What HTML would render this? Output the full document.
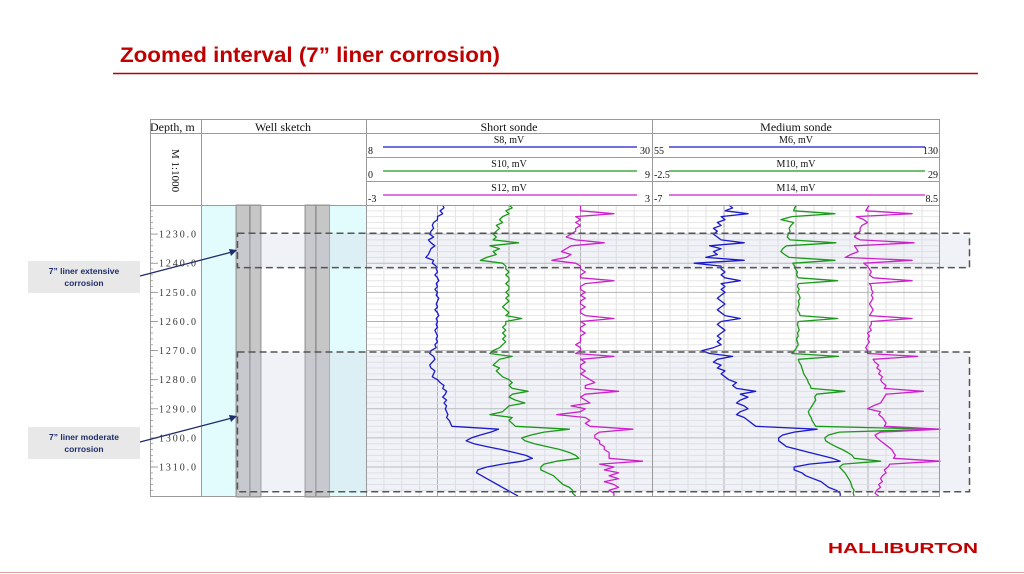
<!DOCTYPE html>
<html><head><meta charset="utf-8"><style>
html,body{margin:0;padding:0;background:#fff;}
svg{display:block;}
.serif{font-family:"Liberation Serif",serif;}
.sans{font-family:"Liberation Sans",sans-serif;}
</style></head><body>
<svg id="page" width="1024" height="574" viewBox="0 0 1024 574">
  <text class="sans" x="120" y="62" font-size="21" font-weight="bold" fill="#c00000" textLength="380" lengthAdjust="spacingAndGlyphs">Zoomed interval (7” liner corrosion)</text>
  <line x1="113" y1="73.5" x2="978" y2="73.5" stroke="#c00000" stroke-width="1.5"/>
  <text class="sans" x="828" y="553" font-size="14.5" font-weight="bold" fill="#c00000" textLength="150" lengthAdjust="spacingAndGlyphs">HALLIBURTON</text>
  <line x1="0" y1="572.5" x2="1024" y2="572.5" stroke="#d9a0a0" stroke-width="1"/>

  <g id="chart">
    <rect x="150" y="119" width="790" height="378" fill="#fff"/>
    <!-- well sketch -->
    <g>
      <rect x="201" y="205" width="35" height="292" fill="#e2fbfd"/>
      <rect x="236" y="205" width="14" height="292" fill="#c6c6c6" stroke="#555" stroke-width="0.6"/>
      <rect x="250" y="205" width="11" height="292" fill="#c6c6c6" stroke="#555" stroke-width="0.6"/>
      <rect x="305" y="205" width="11" height="292" fill="#c6c6c6" stroke="#555" stroke-width="0.6"/>
      <rect x="316" y="205" width="14" height="292" fill="#c6c6c6" stroke="#555" stroke-width="0.6"/>
      <rect x="330" y="205" width="36" height="292" fill="#e2fbfd"/>
    </g>
    <g id="grid"></g>
    <g id="shade"></g>
    <g id="curves"></g>
    <g id="depthAxis"></g>
    <!-- header -->
    <g class="serif" font-size="12" fill="#111">
      <text x="150" y="131" font-size="12">Depth, m</text>
      <rect x="195" y="120" width="5" height="12" fill="#fff"/>
      <text x="283" y="131" text-anchor="middle">Well sketch</text>
      <text x="509" y="131" text-anchor="middle">Short sonde</text>
      <text x="796" y="131" text-anchor="middle">Medium sonde</text>
      <text transform="translate(172,149) rotate(90)" font-size="11">M 1:1000</text>
    </g>
    <g id="legend" class="serif" font-size="10"></g>
    <g id="frame" fill="none" stroke="#9a9a9a" stroke-width="1">
      <rect x="150.5" y="119.5" width="789" height="377"/>
      <line x1="150" y1="133.5" x2="940" y2="133.5"/>
      <line x1="150" y1="205.5" x2="940" y2="205.5"/>
      <line x1="201.5" y1="119" x2="201.5" y2="497"/>
      <line x1="366.5" y1="119" x2="366.5" y2="497"/>
      <line x1="652.5" y1="119" x2="652.5" y2="497"/>
      <line x1="366" y1="157.5" x2="940" y2="157.5"/>
      <line x1="366" y1="181.5" x2="940" y2="181.5"/>
    </g>
    <g id="boxes" fill="none" stroke="#555" stroke-width="1.5" stroke-dasharray="7,4"></g>
  </g>

  <g>
    <rect x="28" y="261" width="112" height="32" fill="#e8e8e8"/>
    <text class="sans" x="84" y="274" font-size="8.5" font-weight="bold" fill="#1f2d6b" text-anchor="middle">7” liner extensive</text>
    <text class="sans" x="84" y="286" font-size="8.5" font-weight="bold" fill="#1f2d6b" text-anchor="middle">corrosion</text>
    <line x1="140" y1="276" x2="232" y2="252" stroke="#1f2d6b" stroke-width="1.3"/>
    <polygon points="237,250 229,249 231,256" fill="#1f2d6b"/>
  </g>
  <g>
    <rect x="28" y="427" width="112" height="32" fill="#e8e8e8"/>
    <text class="sans" x="84" y="440" font-size="8.5" font-weight="bold" fill="#1f2d6b" text-anchor="middle">7” liner moderate</text>
    <text class="sans" x="84" y="452" font-size="8.5" font-weight="bold" fill="#1f2d6b" text-anchor="middle">corrosion</text>
    <line x1="140" y1="442" x2="232" y2="418" stroke="#1f2d6b" stroke-width="1.3"/>
    <polygon points="237,416 229,415 231,422" fill="#1f2d6b"/>
  </g>
</svg>
<script>
const depthStart = 1220;
const depthStep = 1;
const depthTicks = [1230,1240,1250,1260,1270,1280,1290,1300,1310];
const corrosionZones = [[1229.7,1241.5],[1270.5,1318.5]];
const curveNames = ["S8, mV","S10, mV","S12, mV","M6, mV","M10, mV","M14, mV"];
const curveMin = [8,0,-3,55,-2.5,-7];
const curveMax = [30,9,3,130,29,8.5];
const curveMinLabels = ["8","0","-3","55","-2.5","-7"];
const curveMaxLabels = ["30","9","3","130","29","8.5"];
const S8 = [13.9,14.0,13.7,13.9,13.5,13.5,13.2,13.1,13.2,
13.0,12.9,13.2,12.8,13.0,13.3,13.0,12.9,12.8,12.6,13.2,13.1,13.4,
13.4,13.5,13.3,13.5,13.6,13.4,13.5,13.3,13.5,13.4,13.6,13.5,13.4,13.5,13.3,13.5,13.6,13.4,13.5,13.4,13.5,13.3,13.4,13.5,13.4,13.5,13.3,13.4,
13.0,12.9,13.2,13.3,13.1,12.9,13.0,13.3,13.2,13.1,13.5,
13.7,14.0,13.9,14.2,14.1,13.9,14.2,14.0,14.2,14.1,14.2,14.3,14.2,14.4,14.5,14.6,
18.2,17.6,16.8,16.1,15.7,16.3,17.3,18.4,19.4,20.3,20.8,20.0,18.5,17.3,16.6,16.5,16.9,17.3,17.7,18.1,18.5,18.9,19.3,19.7];
const S10 = [4.5,4.6,4.4,4.5,4.3,4.2,4.3,4.1,4.2,
4.1,4.0,4.1,4.0,4.8,3.9,4.2,4.0,4.1,3.8,3.6,4.3,4.4,
4.4,4.5,4.4,4.5,4.5,4.4,4.5,4.5,4.4,4.5,4.4,4.5,4.4,4.3,4.4,4.5,4.4,4.9,4.4,4.4,4.3,4.4,4.3,4.4,4.3,4.4,4.3,4.2,
4.0,3.9,4.6,4.2,4.1,4.0,4.2,4.1,4.2,4.3,4.5,
4.6,4.5,4.6,5.1,4.6,4.5,4.7,5.0,4.5,4.4,4.3,3.9,4.6,4.5,4.6,4.7,
6.4,5.6,5.2,4.9,5.0,5.3,5.7,6.1,6.4,6.6,6.7,6.0,5.6,5.5,5.5,5.7,5.9,6.0,6.1,6.2,6.4,6.5,6.5,6.6];
const S12 = [1.5,1.5,1.5,2.2,1.4,1.5,1.4,1.5,1.4,
1.4,1.3,1.2,1.4,2.0,1.3,1.2,1.1,1.3,1.2,0.9,1.4,1.5,
1.5,1.6,1.5,1.5,2.2,1.6,1.5,1.5,1.6,1.5,1.6,1.5,1.5,1.6,1.5,1.5,1.6,2.2,1.5,1.6,1.5,1.5,1.6,1.5,1.5,1.5,1.4,1.5,
1.5,1.4,2.2,1.5,1.6,1.5,1.5,1.6,1.5,1.6,1.7,
1.8,1.6,1.6,2.3,1.6,1.5,1.6,1.7,1.3,1.6,1.5,1.0,1.6,1.7,1.6,1.7,
2.6,1.9,1.8,1.8,1.9,1.9,2.0,2.0,2.1,2.1,2.1,2.8,1.9,2.2,2.0,2.3,2.1,2.3,2.0,2.2,2.3,2.1,2.2,2.2];
const M6 = [75,76,74,80,73,74,72,73,71,
72,71,72,73,79,70,73,71,72,69,79,66,73,
73,74,73,74,78,73,74,73,74,73,72,73,74,73,72,73,74,78,73,72,73,74,73,72,73,72,73,71,
68,70,76,72,71,73,72,74,73,74,75,
77,76,77,82,78,80,78,77,79,80,78,77,79,80,81,82,
98,92,89,88,88,89,90,93,96,99,102,104,96,92,92,94,95,97,99,100,101,103,104,104];
const M10 = [13.3,13.1,13.0,17.5,12.8,11.6,13.0,12.7,12.5,
12.6,12.4,12.3,12.6,17.6,12.2,11.8,11.6,12.0,12.5,17.5,12.9,13.1,
13.2,13.4,13.3,13.5,17.8,13.5,13.4,13.6,13.4,13.6,13.7,13.5,13.6,13.5,13.4,13.6,13.7,17.8,13.5,13.4,13.5,13.6,13.4,13.5,13.3,13.4,13.5,13.3,
13.1,12.8,17.9,13.5,13.6,13.8,13.9,14.0,14.1,14.3,14.5,
14.6,14.8,14.9,18.6,15.5,15.3,15.4,15.2,15.0,14.8,14.6,14.7,14.9,15.0,15.2,15.4,
28.5,18.0,16.8,16.4,16.5,17.0,17.6,18.3,18.9,19.4,19.6,22.5,18.4,18.0,18.3,18.6,18.8,19.0,19.2,19.3,19.4,19.6,19.5,19.6];
const M14 = [4.7,4.6,4.5,7.0,4.0,4.4,4.6,4.3,4.2,
4.2,4.0,3.9,4.2,7.1,3.9,4.0,4.1,3.7,3.4,7.0,4.4,4.6,
4.7,4.8,4.7,4.9,7.0,4.7,4.8,4.8,4.9,4.8,4.9,4.8,4.7,4.8,4.9,4.8,4.7,7.0,4.8,4.8,4.7,4.8,4.6,4.7,4.6,4.7,4.6,4.5,
4.6,4.6,7.3,4.9,5.0,5.2,5.1,5.3,5.2,5.4,5.3,
5.4,5.6,5.5,7.6,5.6,5.5,5.4,5.3,4.9,4.6,5.3,5.2,5.4,5.5,5.6,5.5,
8.5,5.3,5.0,5.1,5.3,5.5,5.7,5.9,6.0,6.1,6.0,8.5,5.8,5.7,5.5,5.6,5.4,5.3,5.4,5.2,5.3,5.1,5.0,5.2];

const NS = "http://www.w3.org/2000/svg";
const Y0 = 205, Y1 = 497, D0 = 1220, D1 = 1320.3;
function yOf(d){ return Y0 + (d - D0) / (D1 - D0) * (Y1 - Y0); }
const tracks = [[366,652],[652,940]];
function xOf(ci, v){ const t = tracks[ci < 3 ? 0 : 1]; return t[0] + (v - curveMin[ci]) / (curveMax[ci] - curveMin[ci]) * (t[1] - t[0]); }
function mk(tag, attrs, parent){ const e = document.createElementNS(NS, tag); for (const k in attrs) e.setAttribute(k, attrs[k]); parent.appendChild(e); return e; }
const colors = ["#1a1acc","#1a9a1a","#cc22cc","#1a1acc","#1a9a1a","#cc22cc"];

// grid
const grid = document.getElementById('grid');
tracks.forEach(function(t){
  const w = t[1] - t[0];
  for (let i = 1; i < 16; i++){
    const x = t[0] + w * i / 16;
    const major = i % 4 === 0;
    const ln = mk('line', {x1:x, x2:x, y1:Y0, y2:Y1, stroke: major ? '#a8a8a8' : '#e2e2e2', 'stroke-width': 1}, grid);
    
    
  }
  for (let d = 1222; d < 1320; d += 2){
    const major = d % 10 === 0;
    const ln = mk('line', {x1:t[0], x2:t[1], y1:yOf(d), y2:yOf(d), stroke: major ? '#b4b4b4' : '#e6e6e6', 'stroke-width': 1}, grid);
    
    
  }
});

// shading and boxes
const shade = document.getElementById('shade');
const boxes = document.getElementById('boxes');
corrosionZones.forEach(function(z, i){
  const r = mk('rect', {x:237, y:yOf(z[0]), width:733, height:yOf(z[1]) - yOf(z[0]), fill:'rgba(205,210,225,0.28)'}, shade);
  
  
  const b = mk('rect', {x:237.5, y:yOf(z[0]), width:732, height:yOf(z[1]) - yOf(z[0])}, boxes);
  
  
});

// curves
const series = [S8, S10, S12, M6, M10, M14];
const curves = document.getElementById('curves');
series.forEach(function(arr, ci){
  let pts = arr.map(function(v, i){ return xOf(ci, v).toFixed(1) + ',' + yOf(depthStart + i * depthStep).toFixed(1); }).join(' ');
  const p = mk('polyline', {points: pts, fill:'none', stroke: colors[ci], 'stroke-width': 1.3, 'stroke-linejoin':'round'}, curves);
  
  
});

// depth axis
const ax = document.getElementById('depthAxis');
for (let d = 1222; d < 1320; d += 2){
  const tk = mk('line', {x1:150, x2:153, y1:yOf(d), y2:yOf(d), stroke:'#999', 'stroke-width':0.8}, ax);
  
  
}
depthTicks.forEach(function(d){
  const tk = mk('line', {x1:150, x2:158, y1:yOf(d), y2:yOf(d), stroke:'#888', 'stroke-width':0.8}, ax);
  
  
  const t = mk('text', {x:159, y:yOf(d) + 3.5, 'font-size':10, fill:'#333', 'font-family':'"Liberation Serif", serif', textLength:37, lengthAdjust:'spacing'}, ax);
  t.textContent = d.toFixed(1);
  
  
});

// legend
const lg = document.getElementById('legend');
curveNames.forEach(function(n, ci){
  const t = tracks[ci < 3 ? 0 : 1];
  const top = 133 + (ci % 3) * 24;
  const cx = (t[0] + t[1]) / 2;
  const name = mk('text', {x:cx, y:top + 10, 'text-anchor':'middle', fill:'#111'}, lg);
  name.textContent = n;
  
  
  const ln = mk('line', {x1:t[0] + 17, x2:t[1] - 15, y1:top + 14, y2:top + 14, stroke:colors[ci], 'stroke-width':1.3}, lg);
  
  
  const mn = mk('text', {x:t[0] + 2, y:top + 21, fill:'#111'}, lg);
  mn.textContent = curveMinLabels[ci];
  
  
  const mx = mk('text', {x:t[1] - 2, y:top + 21, 'text-anchor':'end', fill:'#111'}, lg);
  mx.textContent = curveMaxLabels[ci];
  
  
});
</script>
</body></html>
